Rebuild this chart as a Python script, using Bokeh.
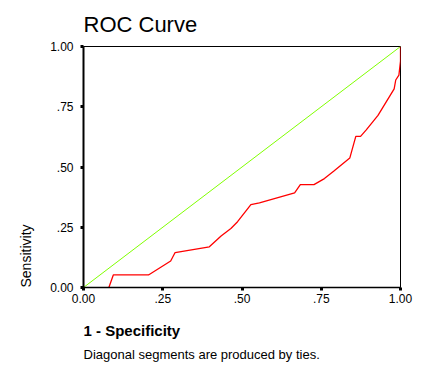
from bokeh.plotting import figure
from bokeh.models import Range1d, FixedTicker, Title
from bokeh.embed import file_html
from bokeh.resources import INLINE

# ROC curve points
fpr = [0.080, 0.094, 0.205, 0.275, 0.289, 0.397, 0.434, 0.465, 0.486, 0.528, 0.555,
       0.666, 0.684, 0.727, 0.760, 0.789, 0.840, 0.859, 0.874, 0.892, 0.929, 0.980,
       0.985, 0.995, 1.0, 1.0]
tpr = [0.000, 0.052, 0.052, 0.110, 0.145, 0.169, 0.214, 0.245, 0.273, 0.344, 0.351,
       0.393, 0.427, 0.427, 0.452, 0.482, 0.537, 0.627, 0.627, 0.654, 0.714, 0.824,
       0.861, 0.881, 0.940, 1.0]
ref_x = [0.0, 1.0]
ref_y = [0.0, 1.0]
ticks = [0.0, 0.25, 0.5, 0.75, 1.0]
tick_labels = ["0.00", ".25", ".50", ".75", "1.00"]

FONT = "Liberation Sans"

p = figure(width=430, height=377, output_backend="svg", toolbar_location=None,
           x_range=Range1d(0, 1), y_range=Range1d(0, 1),
           min_border_left=83, min_border_right=30, min_border_top=44, min_border_bottom=90)
p.background_fill_color = "white"
p.border_fill_color = "white"
p.outline_line_color = "black"
p.outline_line_width = 1
p.xgrid.visible = False
p.ygrid.visible = False

overrides = {t: l for t, l in zip(ticks, tick_labels)}
for ax in (p.xaxis[0], p.yaxis[0]):
    ax.ticker = FixedTicker(ticks=ticks)
    ax.major_label_overrides = overrides
    ax.minor_tick_line_color = None
    ax.major_tick_in = 0
    ax.major_tick_out = 3
    ax.major_tick_line_width = 3
    ax.major_tick_line_color = "black"
    ax.axis_line_color = "black"
    ax.major_label_text_font = FONT
    ax.major_label_text_font_size = "12px"
    ax.major_label_text_color = "black"
p.xaxis[0].major_label_standoff = 3
p.yaxis[0].major_label_standoff = 7
p.yaxis[0].axis_line_width = 2
p.xaxis[0].axis_line_width = 1.5

p.line(ref_x, ref_y, line_color="#80FF00", line_width=1)
p.line(fpr, tpr, line_color="#FF0000", line_width=1.3)

p.title.text = "ROC Curve"
p.title.text_font = FONT
p.title.text_font_size = "22px"
p.title.text_font_style = "normal"
p.title.text_color = "black"
p.title.align = "left"
p.title.standoff = 19
p.title.offset = 0

p.add_layout(Title(text="1 - Specificity", text_font=FONT, text_font_size="15px",
                   text_font_style="bold", text_color="black", align="left",
                   standoff=29), "below")
p.add_layout(Title(text="Diagonal segments are produced by ties.", text_font=FONT,
                   text_font_size="13px", text_font_style="normal", text_color="black",
                   align="left", standoff=-17), "below")
p.add_layout(Title(text="Sensitivity", text_font=FONT, text_font_size="14px",
                   text_font_style="normal", text_color="black", align="left",
                   standoff=28), "left")

open("out.html", "w").write(file_html(p, INLINE))
